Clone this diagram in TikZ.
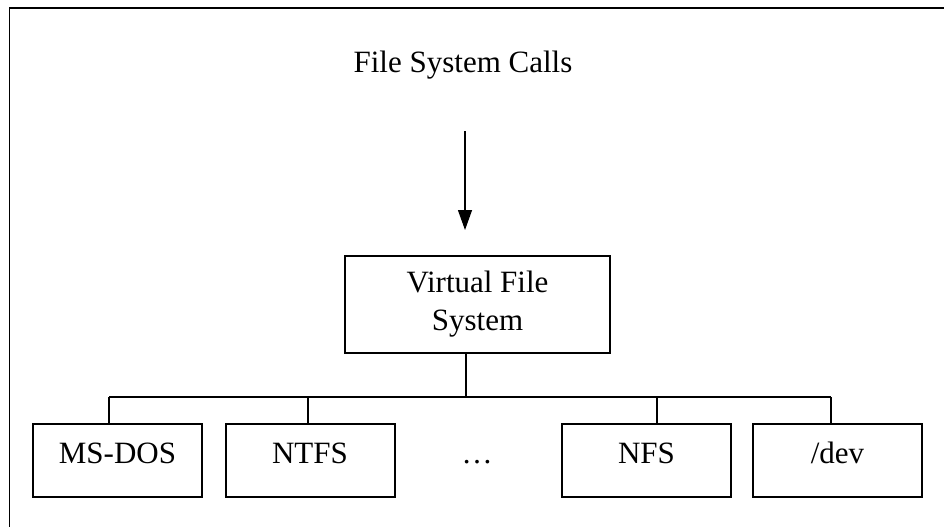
\documentclass[tikz,border=0pt]{standalone}
\usepackage{fontspec}
\setmainfont{Liberation Serif}
\usetikzlibrary{positioning, arrows, arrows.meta}

\begin{document}
\begin{tikzpicture}[x=1pt, y=-1pt,
		txt/.style={font=\fontsize{31}{38}\selectfont},
		box/.style={rectangle, draw, line width=2pt, inner sep=0pt, txt},
		fsbox/.style={box, minimum width=169pt, minimum height=73pt, text height=20pt, text depth=15pt},
		vfsbox/.style={box, align=center, minimum width=265pt, minimum height=97pt},
		link/.style={line width=1.3pt}]
	\useasboundingbox (0,0) rectangle (944,527);
	\draw[link] (944,8) -- (9.5,8) -- (9.5,527);

	\node[txt, xshift=463pt, yshift=-65pt] (calls) {File System Calls};
	\node[vfsbox, xshift=477.5pt, yshift=-304.5pt] (vfs) {Virtual File\\System};
	\node[fsbox, xshift=117.5pt, yshift=-460.5pt] (msdos) {MS-DOS};
	\node[fsbox, xshift=310pt, yshift=-460.5pt] (ntfs) {NTFS};
	\node[txt, xshift=477pt, yshift=-462pt] (dots) {\dots};
	\node[fsbox, xshift=646.5pt, yshift=-460.5pt] (nfs) {NFS};
	\node[fsbox, xshift=837.5pt, yshift=-460.5pt] (dev) {/dev};

	\coordinate (start) at (465,131);
	\coordinate (bus) at (466,397);
	\coordinate (tapms) at (109,397);
	\coordinate (tapnt) at (308,397);
	\coordinate (tapnf) at (657,397);
	\coordinate (tapdv) at (831,397);

	\draw[link, -{Triangle[length=20pt, width=14pt]}] (start) -- ([xshift=-12.5pt, yshift=25pt]vfs.north);
	\draw[link] (bus |- vfs.south) edge (bus);
	\draw[link] (tapms) edge (tapdv);
	\draw[link] (tapms) edge (tapms |- msdos.north);
	\draw[link] (tapnt) edge (tapnt |- ntfs.north);
	\draw[link] (tapnf) edge (tapnf |- nfs.north);
	\draw[link] (tapdv) edge (tapdv |- dev.north);
\end{tikzpicture}
\end{document}
